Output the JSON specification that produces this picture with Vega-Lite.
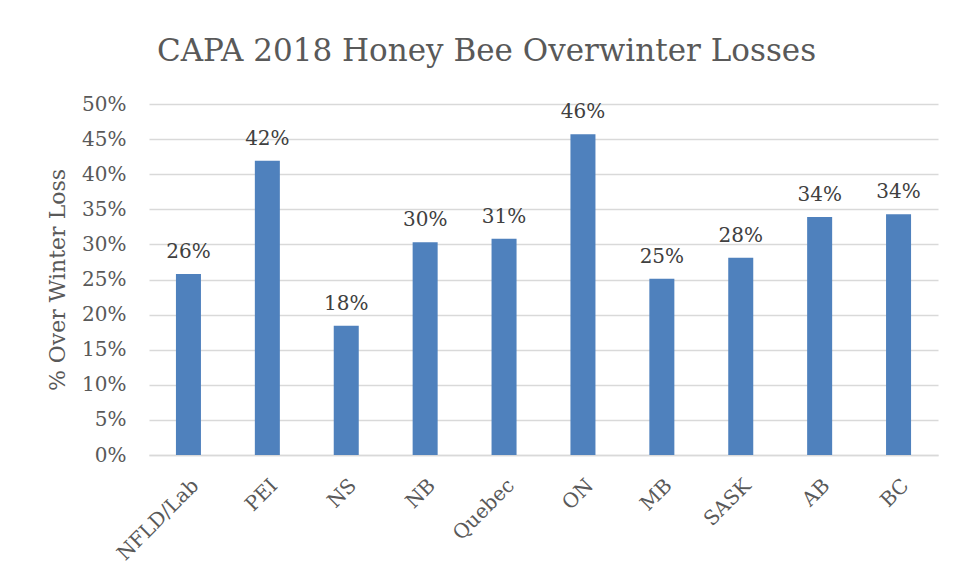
{
  "$schema": "https://vega.github.io/schema/vega-lite/v6.json",
  "autosize": {"type": "none"},
  "width": 789,
  "height": 351,
  "padding": {"left": 149, "top": 104, "right": 23, "bottom": 124},
  "background": "white",
  "title": {
    "text": "CAPA 2018 Honey Bee Overwinter Losses",
    "font": "DejaVu Serif",
    "fontSize": 31,
    "fontWeight": "normal",
    "color": "#595959",
    "anchor": "middle",
    "dx": -57,
    "offset": 26
  },
  "data": {
    "values": [
      {"province": "NFLD/Lab", "loss": 0.258},
      {"province": "PEI", "loss": 0.419},
      {"province": "NS", "loss": 0.184},
      {"province": "NB", "loss": 0.303},
      {"province": "Quebec", "loss": 0.308},
      {"province": "ON", "loss": 0.457},
      {"province": "MB", "loss": 0.251},
      {"province": "SASK", "loss": 0.281},
      {"province": "AB", "loss": 0.339},
      {"province": "BC", "loss": 0.343}
    ]
  },
  "encoding": {
    "x": {
      "field": "province",
      "type": "nominal",
      "sort": null,
      "scale": {"paddingInner": 0.683, "paddingOuter": 0.3415},
      "axis": {
        "title": null,
        "labelAngle": -45,
        "labelFont": "DejaVu Serif",
        "labelFontSize": 20,
        "labelColor": "#595959",
        "ticks": false,
        "domainColor": "#d9d9d9",
        "domainWidth": 1.5,
        "labelPadding": 20
      }
    },
    "y": {
      "field": "loss",
      "type": "quantitative",
      "scale": {"domain": [0, 0.5]},
      "axis": {
        "title": "% Over Winter Loss",
        "titleFont": "DejaVu Serif",
        "titleFontSize": 22,
        "titleFontWeight": "normal",
        "titleColor": "#595959",
        "titlePadding": 12,
        "format": ".0%",
        "values": [0, 0.05, 0.1, 0.15, 0.2, 0.25, 0.3, 0.35, 0.4, 0.45, 0.5],
        "labelFont": "DejaVu Serif",
        "labelFontSize": 20,
        "labelColor": "#595959",
        "labelPadding": 23,
        "ticks": false,
        "domain": false,
        "gridColor": "#d9d9d9",
        "gridWidth": 1.5
      }
    }
  },
  "layer": [
    {"mark": {"type": "bar", "color": "#4f81bd"}},
    {
      "mark": {"type": "text", "dy": -22, "font": "DejaVu Serif", "fontSize": 20, "color": "#404040"},
      "encoding": {"text": {"field": "loss", "type": "quantitative", "format": ".0%"}}
    }
  ],
  "config": {"view": {"stroke": null}}
}
